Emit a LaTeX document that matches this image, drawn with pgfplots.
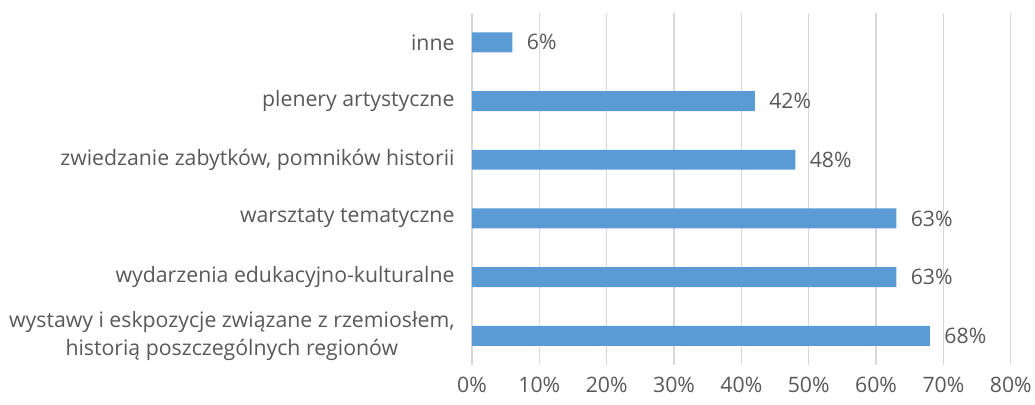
\documentclass[border=0pt]{standalone}
\usepackage{pgfplots}
\pgfplotsset{compat=1.18}
\usepackage{fontspec}
\setmainfont{Open Sans}
\usetikzlibrary{calc}
\definecolor{barblue}{HTML}{5B9BD5}
\definecolor{txt}{HTML}{595959}
\definecolor{grid}{HTML}{D9D9D9}
\newcommand{\lblfont}{\fontsize{21.3pt}{27.5pt}\selectfont}
\begin{document}
\begin{tikzpicture}
\begin{axis}[
  name=ax,
  scale only axis,
  width=540pt, height=353pt,
  xbar, bar width=0.34,
  xmin=0, xmax=80,
  ymin=-0.5, ymax=5.5,
  xtick={0,10,...,80},
  xticklabels={0\%,10\%,20\%,30\%,40\%,50\%,60\%,70\%,80\%},
  ytick={0,1,2,3,4,5},
  yticklabels={{wystawy i eskpozycje związane z rzemiosłem,\\historią poszczególnych regionów},{wydarzenia edukacyjno-kulturalne},{warsztaty tematyczne},{zwiedzanie zabytków, pomników historii},{plenery artystyczne},{inne}},
  yticklabel style={align=center, text=txt, font=\lblfont},
  xticklabel style={text=txt, font=\lblfont},
  axis line style={draw=none},
  major tick length=0pt,
  xmajorgrids, grid style={draw=grid, line width=1.3pt},
  y tick label style={xshift=-14pt},
  x tick label style={yshift=-8pt},
  clip=false,
  nodes near coords={\pgfmathprintnumber[assume math mode=true]{\pgfplotspointmeta}\%},
  point meta=x,
  nodes near coords style={anchor=west, xshift=11pt, text=txt, font=\lblfont},
]
\addplot[fill=barblue, draw=none] coordinates {(68,0) (63,1) (63,2) (48,3) (42,4) (6,5)};
\end{axis}
\path[use as bounding box] ($(ax.south west)+(-473pt,-39pt)$) rectangle ($(ax.north east)+(22pt,13pt)$);
\end{tikzpicture}
\end{document}
